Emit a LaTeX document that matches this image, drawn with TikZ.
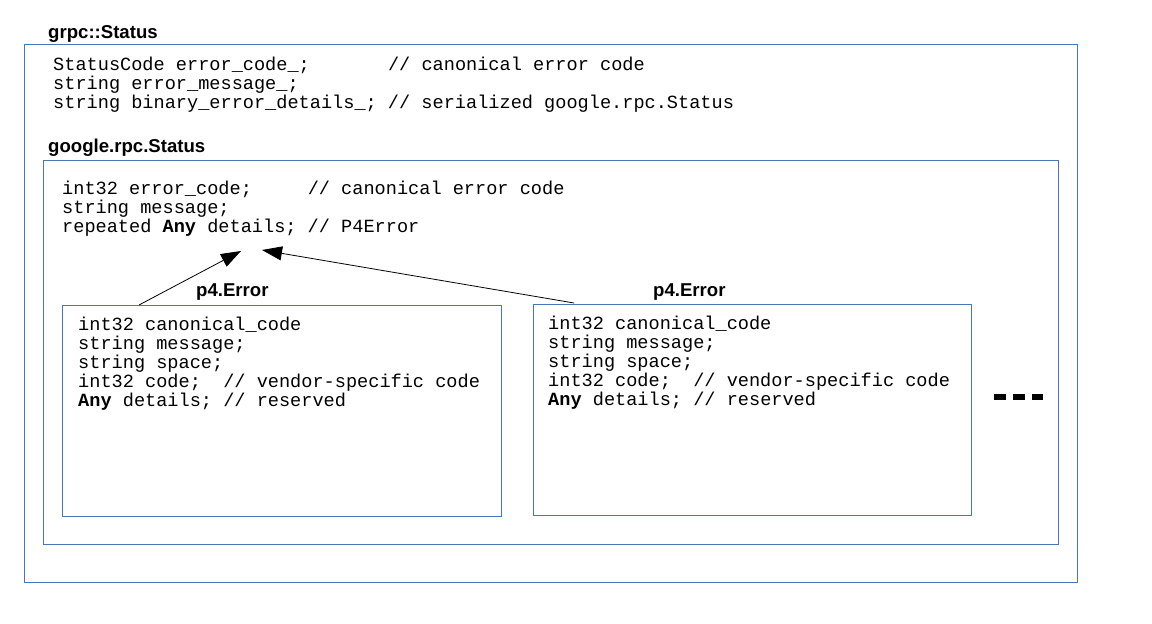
\documentclass[tikz,border=0pt]{standalone}
\usepackage{fontspec}
\setmainfont{Liberation Sans}
\newfontfamily\codefont{Liberation Mono}[WordSpace={1,0,0}]
\usetikzlibrary{arrows.meta,calc}
\definecolor{boxblue}{RGB}{74,118,178}
\begin{document}
\begin{tikzpicture}[x=1pt,y=-1pt,
  box/.style={draw=boxblue, line width=0.9pt, anchor=north west, inner sep=0pt, outer sep=0pt},
  title/.style={font=\fontsize{18.6}{19}\selectfont\bfseries, anchor=base west, inner sep=0pt},
  code/.style={font=\codefont\fontsize{18.6}{19}\selectfont\frenchspacing, anchor=north west, inner sep=0pt, align=left},
  arr/.style={-{Triangle[length=20pt,width=14pt]}, line width=0.8pt},
  dots/.style={line width=5.5pt, dash pattern=on 11.5pt off 7.5pt}]
\useasboundingbox (0,0) rectangle (1152,624);

% boxes
\node[box, minimum width=1053pt, minimum height=538pt] (grpc) at (24,44) {};
\node[box, minimum width=1015pt, minimum height=384pt] (rpc) at (43,160) {};
\node[box, minimum width=439pt, minimum height=211pt] (p4a) at (62,305) {};
\node[box, minimum width=438pt, minimum height=211pt] (p4b) at (533,304) {};

% titles
\node[title] (tgrpc) at (48,38) {grpc::Status};
\node[title] (trpc) at (48,152) {google.rpc.Status};
\node[title] (tp4a) at (196,296) {p4.Error};
\node[title] (tp4b) at (653,296) {p4.Error};

% code
\node[code] (cgrpc) at (53,54) {\rule{0pt}{16pt}StatusCode error\_code\_;~~~~~~~// canonical error code\\
string error\_message\_;\\
string binary\_error\_details\_; // serialized google.rpc.Status};
\node[code] (crpc) at (62,178) {\rule{0pt}{16pt}int32 error\_code;~~~~~// canonical error code\\
string message;\\
repeated \textbf{Any} details; // P4Error};
\node[code] (cp4a) at (78,314) {\rule{0pt}{16pt}int32 canonical\_code\\
string message;\\
string space;\\
int32 code;~~// vendor-specific code\\
\textbf{Any} details; // reserved};
\node[code] (cp4b) at (548,313) {\rule{0pt}{16pt}int32 canonical\_code\\
string message;\\
string space;\\
int32 code;~~// vendor-specific code\\
\textbf{Any} details; // reserved};

% arrows
\coordinate (tipa) at (241,251);
\coordinate (tipb) at (262,250);
\draw[arr] ($(p4a.north west)+(77,0)$) -- (tipa);
\draw[arr] ($(p4b.north west)+(41,-1)$) -- (tipb);

% ellipsis
\coordinate (d1) at (994,397);
\coordinate (d2) at (1043,397);
\draw[dots] (d1) -- (d2);
\end{tikzpicture}
\end{document}
